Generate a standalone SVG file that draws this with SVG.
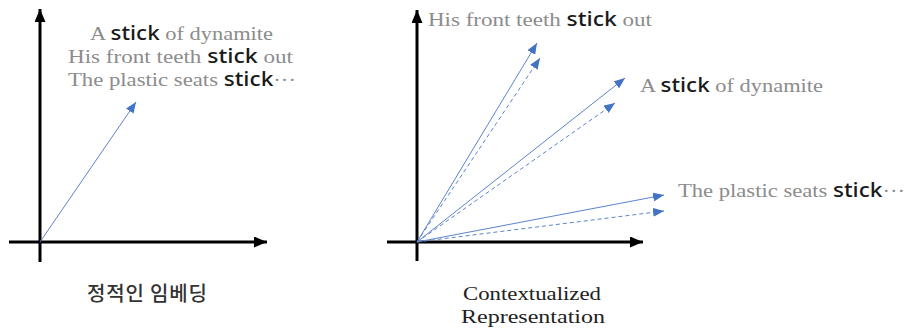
<svg xmlns="http://www.w3.org/2000/svg" width="912" height="328" viewBox="0 0 912 328">
<style>
.ax{stroke:#000;stroke-width:3;fill:none}
.vec{stroke:#5b84cc;stroke-width:1;fill:none}
.dash{stroke-dasharray:4 3}
.t{font-family:"Liberation Serif",serif;font-size:19px;fill:#8c8c8c}
.s{font-family:"Noto Sans","DejaVu Sans",sans-serif;font-weight:500;fill:#1a1a1a}
.cap{font-family:"Liberation Serif",serif;font-size:19px;fill:#222}
.kr{font-family:"Noto Sans CJK KR",sans-serif;font-size:20px;font-weight:500;fill:#333}
</style>
<defs>
<marker id="ah" markerUnits="userSpaceOnUse" markerWidth="13" markerHeight="11" refX="13" refY="5.5" orient="auto"><path d="M0,0 L13,5.5 L0,11 z" fill="#000"/></marker>
<marker id="bh" markerUnits="userSpaceOnUse" markerWidth="11" markerHeight="9" refX="11" refY="4.5" orient="auto"><path d="M0,0 L11,4.5 L0,9 z" fill="#4472C4"/></marker>
</defs>
<g id="left-axes">
<line class="ax" x1="40" y1="262" x2="40" y2="9" marker-end="url(#ah)"/>
<line class="ax" x1="9" y1="242" x2="267" y2="242" marker-end="url(#ah)"/>
</g>
<g id="right-axes">
<line class="ax" x1="417" y1="261" x2="417" y2="10" marker-end="url(#ah)"/>
<line class="ax" x1="387" y1="242" x2="643" y2="242" marker-end="url(#ah)"/>
</g>
<g id="connectors">
<line class="vec" x1="40" y1="242" x2="136" y2="102" marker-end="url(#bh)"/>
<line class="vec" x1="417" y1="242" x2="537" y2="43" marker-end="url(#bh)"/>
<line class="vec dash" x1="417" y1="242" x2="540" y2="58" marker-end="url(#bh)"/>
<line class="vec" x1="417" y1="242" x2="625" y2="78" marker-end="url(#bh)"/>
<line class="vec dash" x1="417" y1="242" x2="615" y2="103" marker-end="url(#bh)"/>
<line class="vec" x1="417" y1="242" x2="664" y2="195" marker-end="url(#bh)"/>
<line class="vec dash" x1="417" y1="242" x2="664" y2="211" marker-end="url(#bh)"/>
</g>
<g id="static-texts">
<text class="t" x="90" y="40" textLength="183" lengthAdjust="spacingAndGlyphs">A <tspan class="s">stick</tspan> of dynamite</text>
<text class="t" x="68" y="63" textLength="225" lengthAdjust="spacingAndGlyphs">His front teeth <tspan class="s">stick</tspan> out</text>
<text class="t" x="68" y="86" textLength="228" lengthAdjust="spacingAndGlyphs">The plastic seats <tspan class="s">stick</tspan>···</text>
</g>
<g id="ctx-texts">
<text class="t" x="428" y="26" textLength="224" lengthAdjust="spacingAndGlyphs">His front teeth <tspan class="s">stick</tspan> out</text>
<text class="t" x="640" y="92" textLength="183" lengthAdjust="spacingAndGlyphs">A <tspan class="s">stick</tspan> of dynamite</text>
<text class="t" x="678" y="197" textLength="227" lengthAdjust="spacingAndGlyphs">The plastic seats <tspan class="s">stick</tspan>···</text>
</g>
<g id="label-static">
<text class="kr" x="87" y="301" textLength="120" lengthAdjust="spacing">정적인 임베딩</text>
</g>
<g id="label-ctx">
<text class="cap" x="463" y="300" textLength="138" lengthAdjust="spacingAndGlyphs">Contextualized</text>
<text class="cap" x="461" y="323" textLength="144" lengthAdjust="spacingAndGlyphs">Representation</text>
</g>
</svg>
